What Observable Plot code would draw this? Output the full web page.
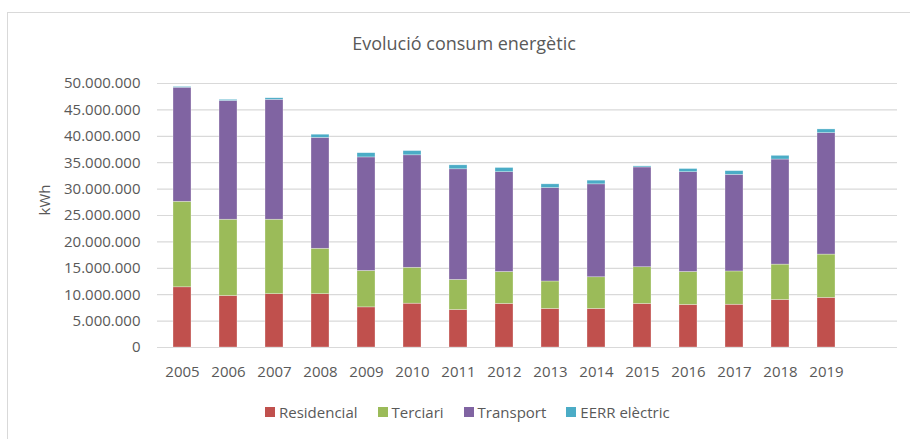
<!DOCTYPE html>
<html>
<head>
<meta charset="utf-8">
<script src="https://cdn.jsdelivr.net/npm/d3@7"></script>
<script src="https://cdn.jsdelivr.net/npm/@observablehq/plot@0.6"></script>
<style>
  html, body { margin: 0; padding: 0; background: #fff; }
  #wrap { position: relative; width: 910px; height: 439px; overflow: hidden; font-family: "Open Sans", sans-serif; color: #595959; }
  #frame { position: absolute; left: 7px; top: 12px; width: 1000px; height: 1000px; border: 1px solid #d9d9d9; box-sizing: border-box; }
  #title { position: absolute; top: 31px; left: 0; width: 928px; text-align: center; font-size: 18px; color: #595959; }
  #chart { position: absolute; left: 0; top: 60px; }
  #legend { position: absolute; top: 402px; left: 265px; display: flex; font-size: 15px; color: #595959; }
  .item { display: flex; align-items: center; margin-right: 20px; }
  .sw { width: 10px; height: 10px; margin-right: 4px; }
</style>
</head>
<body>
<div id="wrap">
  <div id="frame"></div>
  <div id="title">Evolució consum energètic</div>
  <div id="chart"></div>
  <div id="legend"></div>
</div>
<script>
const years = ["2005","2006","2007","2008","2009","2010","2011","2012","2013","2014","2015","2016","2017","2018","2019"];
const series = ["Residencial", "Terciari", "Transport", "EERR elèctric"];
const colors = ["#C0504D", "#9BBB59", "#8064A2", "#4BACC6"];
const residencial = [11400000, 9760000, 10100000, 10100000, 7600000, 8300000, 7100000, 8250000, 7300000, 7300000, 8250000, 8060000, 8100000, 9000000, 9400000];
const terciari    = [16200000, 14440000, 14100000, 8600000, 6900000, 6800000, 5700000, 6050000, 5200000, 6000000, 6950000, 6240000, 6300000, 6700000, 8200000];
const transport   = [21600000, 22500000, 22700000, 21000000, 21500000, 21300000, 20950000, 18900000, 17700000, 17600000, 18900000, 18900000, 18300000, 19900000, 23000000];
const eerr        = [150000, 200000, 300000, 600000, 800000, 800000, 750000, 800000, 700000, 700000, 200000, 600000, 700000, 700000, 700000];
const yTicks = [0, 5000000, 10000000, 15000000, 20000000, 25000000, 30000000, 35000000, 40000000, 45000000, 50000000];
const yLabel = "kWh";

const valuesBySeries = [residencial, terciari, transport, eerr];
const data = [];
years.forEach((yr, i) => {
  series.forEach((s, j) => data.push({year: yr, serie: s, value: valuesBySeries[j][i]}));
});

const fmt = d3.formatLocale({decimal: ",", thousands: ".", grouping: [3], currency: ["", ""]}).format(",");
const xDomain = [...years, " "];

const chart = Plot.plot({
  width: 910,
  height: 327,
  marginLeft: 157,
  marginRight: 13,
  marginTop: 23,
  marginBottom: 40,
  style: {fontFamily: "'Open Sans', sans-serif", fontSize: "15px", color: "#595959", background: "transparent"},
  x: {domain: xDomain, paddingInner: 0.6, paddingOuter: 0.3, label: null, tickSize: 0, tickPadding: 19},
  y: {domain: [0, 50000000], ticks: yTicks, tickFormat: fmt, tickSize: 0, tickPadding: 17, label: null},
  color: {domain: series, range: colors},
  marks: [
    Plot.ruleY(yTicks, {stroke: "#d9d9d9", strokeWidth: 1.2}),
    Plot.barY(data, {x: "year", y: "value", fill: "serie", order: series, stroke: "#ffffff", strokeOpacity: 0.5, strokeWidth: 0.6}),
    Plot.text([yLabel], {frameAnchor: "left", dx: -112, rotate: -90, fontSize: 15, fill: "#595959"})
  ]
});
document.getElementById("chart").appendChild(chart);

const legend = document.getElementById("legend");
series.forEach((s, i) => {
  const it = document.createElement("div");
  it.className = "item";
  const sw = document.createElement("div");
  sw.className = "sw";
  sw.style.background = colors[i];
  const tx = document.createElement("span");
  tx.textContent = s;
  it.appendChild(sw); it.appendChild(tx);
  legend.appendChild(it);
});
</script>
</body>
</html>
